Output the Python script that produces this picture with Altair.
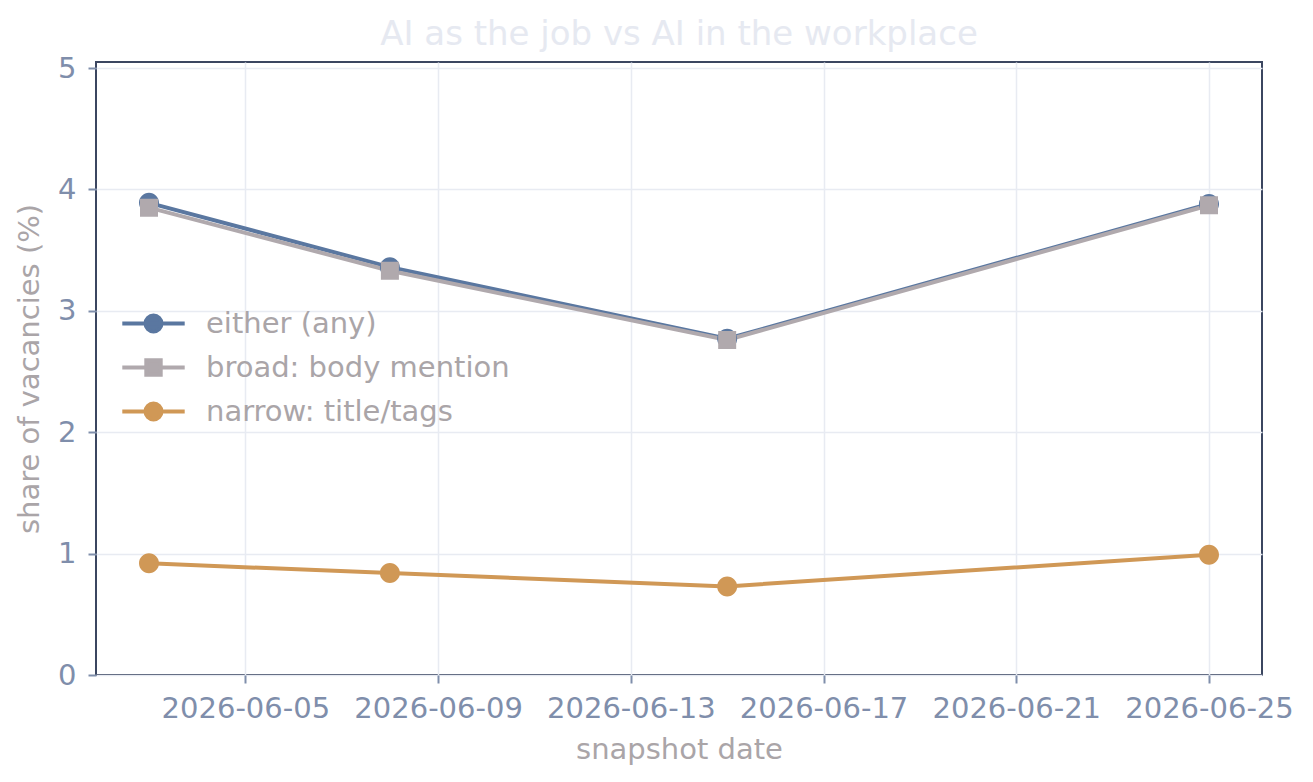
import altair as alt
import pandas as pd

# ---- data ----
dates = ["2026-06-03", "2026-06-08", "2026-06-15", "2026-06-25"]
series_names = ["either (any)", "broad: body mention", "narrow: title/tags"]
either_vals = [3.89, 3.36, 2.77, 3.88]
broad_vals = [3.85, 3.33, 2.76, 3.87]
narrow_vals = [0.92, 0.84, 0.73, 0.99]
series_colors = ["#5a77a0", "#b0a9ad", "#d09856"]
y_ticks = [0, 1, 2, 3, 4, 5]

rows = []
for name, vals in zip(series_names, [either_vals, broad_vals, narrow_vals]):
    for d, v in zip(dates, vals):
        rows.append({"date": d, "value": v, "series": name})
df = pd.DataFrame(rows)

# marker shapes: a zero-area horizontal segment (only visible when stroked, i.e. in the legend) + marker
circle_path = "M-3.9,0L3.9,0M1,0A1,1,0,0,1,-1,0A1,1,0,0,1,1,0Z"
square_path = "M-3.9,0L3.9,0M-0.9,-0.9L0.9,-0.9L0.9,0.9L-0.9,0.9Z"
shape_paths = [circle_path, square_path, circle_path]

FONT = "DejaVu Sans"
TICK_COLOR = "#7f8eab"
TITLE_GREY = "#aaa5a8"
FS = 29
LW = 4

x_enc = alt.X(
    "date:T",
    title="snapshot date",
    scale=alt.Scale(
        type="utc",
        domain=[
            alt.DateTime(year=2026, month=6, date=1, hours=21, minutes=36, utc=True),
            alt.DateTime(year=2026, month=6, date=26, hours=2, minutes=24, utc=True),
        ],
        nice=False,
    ),
    axis=alt.Axis(
        format="%Y-%m-%d",
        tickCount={"interval": "day", "step": 4},
        labelFontSize=FS,
        labelColor=TICK_COLOR,
        labelPadding=11,
        labelFlush=False,
        labelOverlap=False,
        titleFontSize=FS,
        titleColor=TITLE_GREY,
        titleFontWeight="normal",
        titlePadding=12,
    ),
)
y_enc = alt.Y(
    "value:Q",
    title="share of vacancies (%)",
    scale=alt.Scale(domain=[0, 5.05], nice=False, zero=True),
    axis=alt.Axis(
        values=y_ticks,
        labelFontSize=FS,
        labelColor=TICK_COLOR,
        labelPadding=12,
        labelFlush=False,
        titleFontSize=FS,
        titleColor=TITLE_GREY,
        titleFontWeight="normal",
        titlePadding=13,
    ),
)

legend = alt.Legend(
    title=None,
    orient="none",
    legendX=43,
    legendY=247,
    padding=0,
    labelFontSize=FS,
    labelFont=FONT,
    labelColor=TITLE_GREY,
    labelLimit=600,
    labelOffset=38,
    rowPadding=12,
    symbolSize=256,
    symbolStrokeWidth=LW,
    symbolOpacity=1,
)

lines = alt.Chart(df).mark_line(strokeWidth=LW).encode(
    x=x_enc,
    y=y_enc,
    stroke=alt.Stroke(
        "series:N",
        scale=alt.Scale(domain=series_names, range=series_colors),
        legend=legend,
    ),
)

points = alt.Chart(df).mark_point(filled=True, size=400, opacity=1).encode(
    x=x_enc,
    y=y_enc,
    fill=alt.Fill(
        "series:N",
        scale=alt.Scale(domain=series_names, range=series_colors),
        legend=legend,
    ),
    shape=alt.Shape(
        "series:N",
        scale=alt.Scale(domain=series_names, range=shape_paths),
        legend=legend,
    ),
)

chart = (
    alt.layer(lines, points)
    .properties(
        width=1166,
        height=613,
        autosize=alt.AutoSizeParams(type="none"),
        padding={"left": 88, "top": 54, "right": 40, "bottom": 95},
        title=alt.TitleParams(
            "AI as the job vs AI in the workplace",
            fontSize=34,
            font=FONT,
            color="#e6e9f1",
            fontWeight="normal",
            anchor="middle",
            offset=2,
        ),
    )
    .configure(font=FONT, background="white")
    .configure_view(stroke="#3b4660", strokeWidth=2)
    .configure_axis(
        domain=False,
        grid=True,
        gridColor="#e8ebf2",
        gridWidth=1.5,
        tickColor=TICK_COLOR,
        tickSize=8,
        tickWidth=2,
        labelFont=FONT,
        titleFont=FONT,
    )
)

chart.save("out.html", embed_options={"renderer": "svg", "actions": False})
